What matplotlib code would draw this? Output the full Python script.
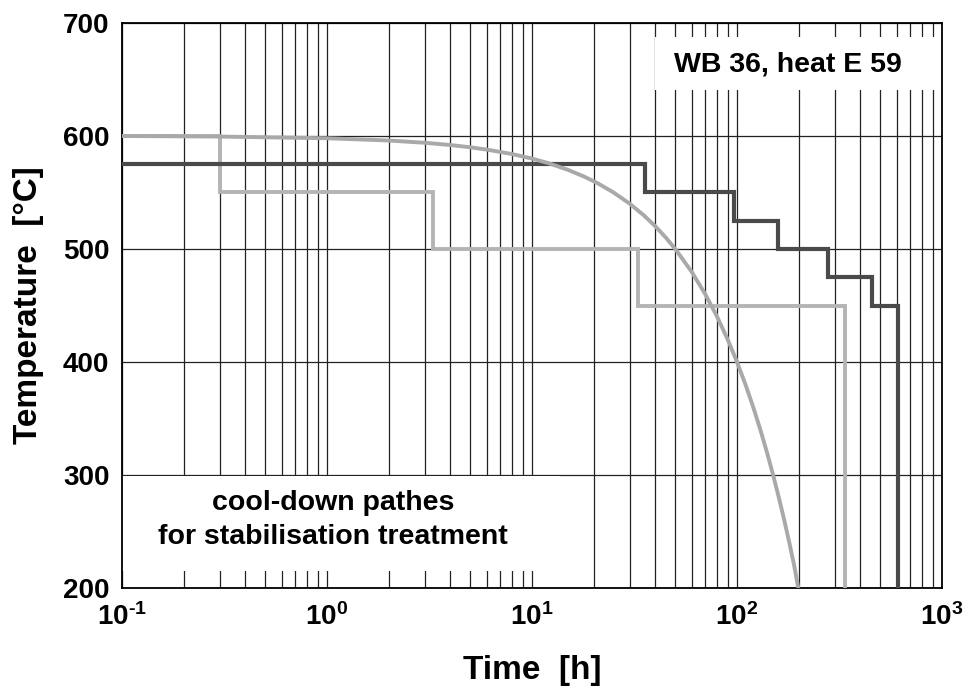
# Cool-down paths for stabilisation treatment, WB 36 heat E 59
import matplotlib.pyplot as plt
from matplotlib.patches import Rectangle

plt.rcParams['font.family'] = ['Liberation Sans', 'DejaVu Sans']
plt.rcParams['font.weight'] = 'bold'
plt.rcParams['mathtext.fontset'] = 'custom'
plt.rcParams['mathtext.rm'] = 'Liberation Sans:bold'
plt.rcParams['mathtext.it'] = 'Liberation Sans:bold'

# smooth cool-down curve
t_smooth = [0.1, 0.3, 1, 2, 3, 4, 5, 6, 8, 10, 12, 15, 18, 21, 25, 30, 35,
            40, 45, 50, 60, 70, 80, 90, 100, 110, 120, 130, 140, 150, 160,
            170, 180, 190, 199]
T_smooth = [600, 599.5, 598, 596, 594, 592, 590, 588, 584, 580, 576, 570,
            564, 558, 550, 540, 530, 520, 510, 500, 480, 460, 440, 420, 400,
            380, 360, 340, 320, 300, 280, 260, 240, 220, 200]

# light stepped path (50 K steps, one decade each)
t_light = [0.1, 0.3, 0.3, 3.3, 3.3, 33, 33, 335, 335]
T_light = [600, 600, 550, 550, 500, 500, 450, 450, 200]

# dark stepped path (25 K steps)
t_dark = [0.1, 35.6, 35.6, 97, 97, 158, 158, 278, 278, 456, 456, 610, 610]
T_dark = [575, 575, 550, 550, 525, 525, 500, 500, 475, 475, 450, 450, 200]

xticks = [0.1, 1, 10, 100, 1000]
xlabels = [r'$10^{\text{-}1}$', r'$10^{0}$', r'$10^{1}$', r'$10^{2}$',
           r'$10^{3}$']
yticks = [200, 300, 400, 500, 600, 700]

fig = plt.figure(figsize=(9.65, 6.88), dpi=100)
ax = fig.add_axes([0.1264, 0.1453, 0.8498, 0.8213])

ax.set_xscale('log')
ax.set_xlim(0.1, 1000)
ax.set_ylim(200, 700)

ax.set_axisbelow(True)
ax.grid(True, which='both', axis='x', color='#222222', lw=0.9)
ax.grid(True, which='major', axis='y', color='#222222', lw=0.9)

# white label boxes that hide the grid
ax.add_patch(Rectangle((0.1, 215), 13.6, 84.5, facecolor='white',
                       edgecolor='none', zorder=1))
ax.add_patch(Rectangle((40, 641), 960, 46.5, facecolor='white',
                       edgecolor='none', zorder=1))

ax.plot(t_light, T_light, color='#b4b4b4', lw=2.8, zorder=3,
        solid_joinstyle='miter')
ax.plot(t_dark, T_dark, color='#4a4a4a', lw=3.0, zorder=4,
        solid_joinstyle='miter')
ax.plot(t_smooth, T_smooth, color='#a9a9a9', lw=2.8, zorder=5)

ax.set_xticks(xticks)
ax.set_xticklabels(xlabels)
ax.set_yticks(yticks)
ax.tick_params(axis='both', which='both', direction='in', length=0,
               labelsize=20, pad=9)
ax.tick_params(axis='x', pad=11)
for s in ax.spines.values():
    s.set_linewidth(1.3)
    s.set_color('black')

ax.set_xlabel('Time  [h]', fontsize=24, fontweight='bold', labelpad=17)
ax.set_ylabel('Temperature  [°C]', fontsize=24, fontweight='bold', labelpad=14)

ax.text(0.8125, 0.926, 'WB 36, heat E 59', transform=ax.transAxes,
        ha='center', va='center', fontsize=20.5, fontweight='bold', zorder=6)
ax.text(0.2575, 0.12, 'cool-down pathes\nfor stabilisation treatment',
        transform=ax.transAxes, ha='center', va='center', fontsize=20.5,
        fontweight='bold', linespacing=1.42, zorder=6)

fig.savefig('out.png', dpi=100)
